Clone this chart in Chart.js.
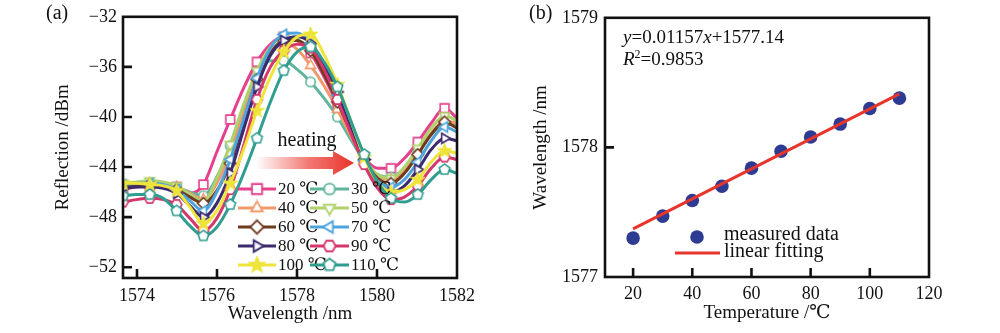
<!DOCTYPE html>
<html><head><meta charset="utf-8">
<script src="https://cdn.jsdelivr.net/npm/chart.js@4/dist/chart.umd.min.js"></script>
<style>
html,body{margin:0;padding:0;background:#fff;width:1000px;height:333px;overflow:hidden}
#wrap{position:relative;width:1000px;height:333px}
canvas{position:absolute;top:0}
#ca{left:0}#cb{left:500px}
</style></head><body>
<div id="wrap"><canvas id="ca" width="500" height="333"></canvas><canvas id="cb" width="500" height="333"></canvas></div>
<script>
// ---------- Panel (a) data ----------
const wavelength = [1573.65,1573.985,1574.32,1574.655,1574.99,1575.325,1575.66,1575.995,1576.33,1576.665,1577.0,1577.335,1577.67,1578.005,1578.34,1578.675,1579.01,1579.345,1579.68,1580.015,1580.35,1580.685,1581.02,1581.355,1581.69,1582.0];
const tempLabels = ['20 ℃','30 ℃','40 ℃','50 ℃','60 ℃','70 ℃','80 ℃','90 ℃','100 ℃','110 ℃'];
const refl20  = [-45.8,-45.6,-45.5,-45.5,-45.6,-46.1,-45.4,-42.8,-40.2,-37.7,-35.6,-34.2,-33.6,-33.9,-34.9,-36.8,-39.0,-41.3,-43.2,-44.1,-44.1,-43.3,-42.0,-40.5,-39.3,-40.1];
const refl30  = [-45.6,-45.5,-45.4,-45.4,-45.6,-46.0,-46.3,-44.8,-42.3,-39.2,-36.8,-35.5,-35.5,-36.2,-37.2,-38.5,-40.0,-41.8,-43.5,-44.6,-44.8,-44.1,-42.8,-41.4,-40.5,-40.7];
const refl40  = [-45.5,-45.4,-45.3,-45.4,-45.6,-46.1,-46.6,-45.3,-42.9,-39.7,-36.8,-34.9,-34.1,-34.6,-35.9,-37.5,-39.4,-41.5,-43.4,-44.7,-45.0,-44.3,-42.8,-41.3,-40.3,-40.5];
const refl50  = [-45.3,-45.2,-45.1,-45.2,-45.5,-46.2,-46.8,-44.9,-42.2,-39.0,-36.3,-34.4,-33.6,-33.8,-34.7,-36.5,-38.7,-41.1,-43.3,-44.6,-44.9,-44.0,-42.5,-40.9,-39.9,-40.3];
const refl60  = [-45.6,-45.5,-45.4,-45.5,-45.8,-46.4,-46.9,-45.9,-43.7,-40.3,-37.0,-34.9,-33.9,-33.9,-34.7,-36.6,-38.8,-41.2,-43.4,-44.9,-45.3,-44.5,-43.0,-41.4,-40.4,-40.9];
const refl70  = [-45.4,-45.3,-45.3,-45.4,-45.8,-46.7,-47.5,-46.0,-43.4,-40.2,-36.9,-34.5,-33.4,-33.3,-34.1,-36.0,-38.3,-41.0,-43.5,-45.1,-45.6,-45.0,-43.6,-41.9,-40.8,-41.2];
const refl80  = [-45.7,-45.6,-45.6,-45.7,-46.1,-47.1,-48.0,-46.9,-44.5,-41.0,-37.6,-35.1,-33.9,-33.6,-34.1,-35.8,-38.0,-40.8,-43.4,-45.3,-46.0,-45.5,-44.2,-42.6,-41.7,-41.9];
const refl90  = [-46.8,-46.6,-46.5,-46.6,-47.0,-48.1,-49.1,-48.1,-45.8,-42.3,-38.6,-36.0,-34.7,-34.2,-34.5,-36.2,-38.6,-41.3,-43.8,-45.7,-46.6,-46.4,-45.5,-44.1,-43.2,-43.4];
const refl100 = [-45.3,-45.3,-45.4,-45.5,-45.9,-47.2,-48.5,-47.5,-45.3,-42.6,-39.5,-36.8,-34.8,-33.6,-33.4,-35.0,-37.4,-40.3,-43.2,-45.2,-46.0,-45.8,-45.0,-43.6,-42.7,-42.9];
const refl110 = [-46.3,-46.2,-46.2,-46.5,-47.5,-48.7,-49.5,-48.8,-47.0,-44.5,-41.7,-38.8,-36.3,-34.8,-34.4,-35.6,-37.6,-40.3,-43.0,-45.2,-46.5,-46.8,-46.2,-45.0,-44.2,-44.5];
const xTicksA = [1574,1576,1578,1580,1582];
const yTicksA = [-32,-36,-40,-44,-48,-52];

// ---------- Panel (b) data ----------
const temperature = [20,30,40,50,60,70,80,90,100,110];
const peakWavelength = [1577.30,1577.47,1577.59,1577.70,1577.84,1577.97,1578.08,1578.18,1578.30,1578.38];
const fitTemperature = [20,110];
const fitWavelength = [1577.371,1578.413];
const xTicksB = [20,40,60,80,100,120];
const yTicksB = [1577,1578,1579];

// ---------- styles ----------
const series = [refl20,refl30,refl40,refl50,refl60,refl70,refl80,refl90,refl100,refl110];
const colors = ['#e6408c','#5fb59b','#f2996c','#afd26c','#6e3b1e','#4ea5dd','#3c2a6e','#d6366b','#eee43a','#2f9d8f'];
const shapes = ['square','circle','triUp','triDown','diamond','triLeft','triRight','hexagon','star','pentagon'];
const FONT = '"Liberation Serif","DejaVu Serif","Noto Sans CJK SC",serif';
Chart.defaults.font.family = FONT;
Chart.defaults.color = '#111';

function marker(shape, color) {
  const S = 15, c = document.createElement('canvas'); c.width = S; c.height = S;
  const g = c.getContext('2d'); const cx = S/2, cy = S/2;
  g.lineWidth = 1.6; g.strokeStyle = color; g.fillStyle = '#fff'; g.lineJoin = 'miter';
  g.beginPath();
  const poly = (n, r, a0) => { for (let k = 0; k < n; k++) { const a = a0 + k*2*Math.PI/n; const px = cx + r*Math.cos(a), py = cy + r*Math.sin(a); if (k) g.lineTo(px, py); else g.moveTo(px, py); } g.closePath(); };
  if (shape === 'square') g.rect(cx-4.4, cy-4.4, 8.8, 8.8);
  else if (shape === 'circle') g.arc(cx, cy, 4.7, 0, 2*Math.PI);
  else if (shape === 'triUp') poly(3, 5.8, -Math.PI/2);
  else if (shape === 'triDown') poly(3, 5.8, Math.PI/2);
  else if (shape === 'triLeft') poly(3, 5.8, Math.PI);
  else if (shape === 'triRight') poly(3, 5.8, 0);
  else if (shape === 'diamond') poly(4, 5.8, -Math.PI/2);
  else if (shape === 'hexagon') poly(6, 5.3, 0);
  else if (shape === 'pentagon') poly(5, 5.6, -Math.PI/2);
  else if (shape === 'star') {
    for (let k = 0; k < 10; k++) { const r = k % 2 ? 2.8 : 6.6; const a = -Math.PI/2 + k*Math.PI/5; const px = cx + r*Math.cos(a), py = cy + r*Math.sin(a); if (k) g.lineTo(px, py); else g.moveTo(px, py); }
    g.closePath(); g.fillStyle = color;
  }
  g.fill(); g.stroke();
  return c;
}
const markers = shapes.map((s, i) => marker(s, colors[i]));

function framePlugin(tickLen) {
  return {
    id: 'frame',
    afterDatasetsDraw(chart) {
      const {ctx, chartArea: {left, right, top, bottom}, scales: {x, y}} = chart;
      ctx.save();
      ctx.strokeStyle = '#111'; ctx.lineWidth = 2.6;
      ctx.strokeRect(left, top, right - left, bottom - top);
      ctx.beginPath();
      x.ticks.forEach(t => { const p = x.getPixelForValue(t.value); if (p > left + 3 && p < right - 3) { ctx.moveTo(p, bottom); ctx.lineTo(p, bottom - tickLen); } });
      y.ticks.forEach(t => { const p = y.getPixelForValue(t.value); if (p > top + 3 && p < bottom - 3) { ctx.moveTo(left, p); ctx.lineTo(left + tickLen, p); } });
      ctx.stroke();
      ctx.restore();
    }
  };
}

const annotA = {
  id: 'annotA',
  afterDraw(chart) {
    const ctx = chart.ctx;
    ctx.save();
    ctx.fillStyle = '#111';
    ctx.font = '20px ' + FONT; ctx.textBaseline = 'alphabetic'; ctx.textAlign = 'left';
    ctx.fillText('(a)', 46, 19);
    // heating arrow
    ctx.font = '20px ' + FONT; ctx.textAlign = 'center';
    ctx.fillText('heating', 307, 146);
    const grad = ctx.createLinearGradient(256, 0, 353, 0);
    grad.addColorStop(0, 'rgba(236,62,52,0)');
    grad.addColorStop(0.55, 'rgba(236,62,52,0.7)');
    grad.addColorStop(1, 'rgba(232,50,44,1)');
    ctx.fillStyle = grad;
    ctx.beginPath();
    ctx.moveTo(256, 157); ctx.lineTo(333, 157); ctx.lineTo(333, 151); ctx.lineTo(354, 163);
    ctx.lineTo(333, 175); ctx.lineTo(333, 169); ctx.lineTo(256, 169); ctx.closePath(); ctx.fill();
    // legend
    ctx.textAlign = 'left'; ctx.textBaseline = 'middle'; ctx.font = '17px ' + FONT; ctx.fillStyle = '#111';
    chart.data.datasets.forEach((ds, i) => {
      const row = Math.floor(i / 2), col = i % 2;
      const yy = 189 + row * 19;
      const x1 = col ? 310 : 238, x2 = col ? 349 : 276;
      ctx.strokeStyle = ds.borderColor; ctx.lineWidth = 3;
      ctx.beginPath(); ctx.moveTo(x1, yy); ctx.lineTo(x2, yy); ctx.stroke();
      const m = markers[i];
      const s = 1.15;
      ctx.drawImage(m, (x1 + x2) / 2 - m.width * s / 2, yy - m.height * s / 2, m.width * s, m.height * s);
      ctx.fillStyle = '#111';
      ctx.fillText(ds.label, x2 + 2, yy + 1);
    });
    ctx.restore();
  }
};

new Chart(document.getElementById('ca'), {
  type: 'line',
  data: {
    datasets: series.map((vals, i) => ({
      label: tempLabels[i],
      data: wavelength.map((w, j) => ({x: w, y: vals[j]})),
      borderColor: colors[i],
      backgroundColor: colors[i],
      borderWidth: 3,
      pointStyle: markers[i],
      pointRadius: wavelength.map((w, j) => (j % 2 === 0 && j < 25) ? 5 : 0),
      pointHoverRadius: 0,
      cubicInterpolationMode: 'monotone',
      fill: false,
      order: 10 - i
    }))
  },
  options: {
    responsive: false, animation: false, events: [],
    layout: {padding: {left: 0, right: 43, top: 12, bottom: 0}},
    plugins: {legend: {display: false}, tooltip: {enabled: false}},
    scales: {
      x: {
        type: 'linear', min: 1573.65, max: 1582,
        afterBuildTicks: s => { s.ticks = xTicksA.map(v => ({value: v})); },
        afterFit: s => { s.height = 55; },
        grid: {display: false, drawTicks: false}, border: {display: false},
        ticks: {padding: 7, font: {size: 18}, color: '#111', autoSkip: false, maxRotation: 0, callback: v => String(v)},
        title: {display: true, text: 'Wavelength /nm', font: {size: 19}, color: '#111', padding: {top: 0, bottom: 8}}
      },
      y: {
        type: 'linear', min: -52.86, max: -32,
        afterBuildTicks: s => { s.ticks = yTicksA.map(v => ({value: v})); },
        afterFit: s => { s.width = 123; },
        grid: {display: false, drawTicks: false}, border: {display: false},
        ticks: {padding: 6, font: {size: 18}, color: '#111', autoSkip: false, callback: v => (v < 0 ? '\u2212' : '') + Math.abs(v)},
        title: {display: true, text: 'Reflection /dBm', font: {size: 19}, color: '#111', padding: {top: 52, bottom: 0}}
      }
    }
  },
  plugins: [framePlugin(9), annotA]
});

const annotB = {
  id: 'annotB',
  afterDraw(chart) {
    const ctx = chart.ctx;
    ctx.save();
    ctx.fillStyle = '#111'; ctx.textBaseline = 'alphabetic'; ctx.textAlign = 'left';
    ctx.font = '20px ' + FONT;
    ctx.fillText('(b)', 29, 19);
    const parts = (x, y, list) => {
      list.forEach(([txt, font, dy]) => { ctx.font = font; ctx.fillText(txt, x, y + (dy || 0)); x += ctx.measureText(txt).width; });
    };
    const N = '19px ' + FONT, I = 'italic 19px ' + FONT;
    parts(123, 43, [['y', I], ['=0.01157', N], ['x', I], ['+1577.14', N]]);
    parts(123, 65, [['R', I], ['2', '12px ' + FONT, -7], ['=0.9853', N]]);
    // legend
    ctx.fillStyle = '#2e3b92';
    ctx.beginPath(); ctx.arc(197, 237, 6.8, 0, 2 * Math.PI); ctx.fill();
    ctx.strokeStyle = '#e8352c'; ctx.lineWidth = 3;
    ctx.beginPath(); ctx.moveTo(175, 253); ctx.lineTo(220, 253); ctx.stroke();
    ctx.fillStyle = '#111'; ctx.font = '20px ' + FONT;
    ctx.fillText('measured data', 224, 240);
    ctx.fillText('linear fitting', 224, 257);
    ctx.restore();
  }
};

new Chart(document.getElementById('cb'), {
  type: 'scatter',
  data: {
    datasets: [
      {label: 'linear fitting', type: 'line', data: fitTemperature.map((t, i) => ({x: t, y: fitWavelength[i]})), borderColor: '#e8352c', borderWidth: 3, pointRadius: 0, fill: false, order: 0},
      {label: 'measured data', data: temperature.map((t, i) => ({x: t, y: peakWavelength[i]})), backgroundColor: '#2e3b92', borderWidth: 0, pointRadius: 6.8, order: 1}
    ]
  },
  options: {
    responsive: false, animation: false, events: [],
    layout: {padding: {left: 0, right: 71, top: 15, bottom: 0}},
    plugins: {legend: {display: false}, tooltip: {enabled: false}},
    scales: {
      x: {
        type: 'linear', min: 10.5, max: 120,
        afterBuildTicks: s => { s.ticks = xTicksB.map(v => ({value: v})); },
        afterFit: s => { s.height = 56; },
        grid: {display: false, drawTicks: false}, border: {display: false},
        ticks: {padding: 6, font: {size: 18}, color: '#111', autoSkip: false, maxRotation: 0, callback: v => String(v)},
        title: {display: true, text: 'Temperature /℃', font: {size: 19}, color: '#111', padding: {top: 0, bottom: 9}}
      },
      y: {
        type: 'linear', min: 1577, max: 1579,
        afterBuildTicks: s => { s.ticks = yTicksB.map(v => ({value: v})); },
        afterFit: s => { s.width = 105; },
        grid: {display: false, drawTicks: false}, border: {display: false},
        ticks: {padding: 7, font: {size: 18}, color: '#111', autoSkip: false, callback: v => String(v)},
        title: {display: true, text: 'Wavelength /nm', font: {size: 19}, color: '#111', padding: {top: 30, bottom: 0}}
      }
    }
  },
  plugins: [framePlugin(9), annotB]
});
</script>
</body></html>
